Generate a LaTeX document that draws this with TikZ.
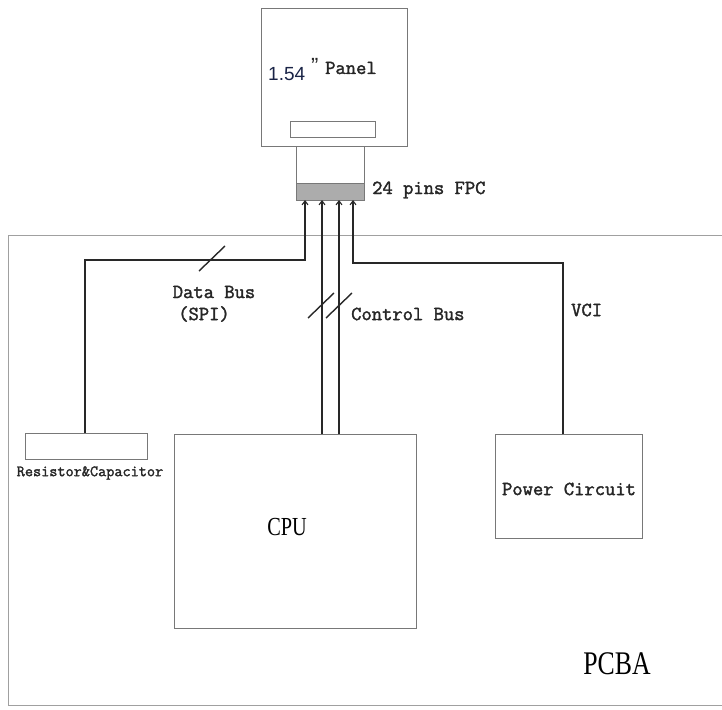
\documentclass[tikz,border=0pt]{standalone}
\usepackage{fontspec}
\usetikzlibrary{arrows.meta,calc}
\newfontfamily\monof[FakeBold=1.8]{Latin Modern Mono}
\newfontfamily\cserif[FakeStretch=0.78]{Liberation Serif}
\newfontfamily\sansf{Liberation Sans}
\definecolor{boxgray}{RGB}{120,120,120}
\definecolor{framegray}{RGB}{160,160,160}
\definecolor{wirec}{RGB}{40,40,40}
\tikzset{
  box/.style={draw=boxgray,line width=1.1pt,anchor=north west,inner sep=0pt},
  wire/.style={draw=wirec,line width=1.6pt},
  pin/.style={wire,-{Straight Barb[length=4pt,width=6pt,line width=1.1pt]}},
  slash/.style={draw=wirec,line width=1.4pt},
  lbl/.style={font=\monof\fontsize{20}{22}\selectfont,text=black!85,inner sep=0pt},
  slbl/.style={font=\monof\fontsize{15.8}{18}\selectfont,text=black!85,inner sep=0pt},
}
\begin{document}
\begin{tikzpicture}[x=1pt,y=-1pt]
\useasboundingbox (0,0) rectangle (722,709);
% PCBA frame
\draw[framegray,line width=1pt] (722,235) -- (8,235) -- (8,705) -- (722,705);
% panel
\node[box,minimum width=146pt,minimum height=138pt] (panel) at (261,8) {};
\node[box,minimum width=85pt,minimum height=16pt] (slot) at (290,121) {};
\node[box,minimum width=68pt,minimum height=54pt] (neck) at (296,146) {};
\node[box,fill=gray!65,minimum width=68pt,minimum height=17pt] (fpc) at (296,183) {};
\node[anchor=base west,inner sep=0pt,font=\sansf\fontsize{19}{20}\selectfont,text={rgb,255:red,25;green,35;blue,70}] (n154) at (268,80) {1.54};
\node[lbl,anchor=base west] (npanel) at (311,74) {{\sansf\fontsize{22}{22}\selectfont ”}\,\,Panel};
\node[lbl,anchor=west] (nfpc) at (372,190) {24 pins FPC};
% boxes
\node[box,minimum width=122pt,minimum height=26pt] (res) at (25,433) {};
\node[slbl] (nres) at (90,473) {Resistor\&Capacitor};
\node[box,minimum width=242pt,minimum height=194pt] (cpu) at (174,434) {};
\node[font=\cserif\fontsize{26}{28}\selectfont,inner sep=0pt] (ncpu) at (287,527) {CPU};
\node[box,minimum width=147pt,minimum height=104pt] (pwr) at (495,434) {};
\node[lbl] (npwr) at (569,489) {Power Circuit};
\node[font=\cserif\fontsize{33}{35}\selectfont,inner sep=0pt] (npcba) at (617,664) {PCBA};
% pins
\coordinate (p1) at (305,200);
\coordinate (p2) at (322,200);
\coordinate (p3) at (339,200);
\coordinate (p4) at (353,200);
\coordinate (d1) at (305,260);
\coordinate (v1) at (353,263);
\draw[pin] (res.north -| 85,0) |- (d1) -- (p1);
\draw[pin] (cpu.north -| p2) -- (p2);
\draw[pin] (cpu.north -| p3) -- (p3);
\draw[pin] (pwr.north -| 563,0) |- (v1) -- (p4);
% slashes
\coordinate (s1a) at (199,271); \coordinate (s1b) at (225,246);
\coordinate (s2a) at (308,318); \coordinate (s2b) at (334,293);
\coordinate (s3a) at (326,318); \coordinate (s3b) at (352,293);
\draw[slash] (s1a) -- (s1b);
\draw[slash] (s2a) -- (s2b);
\draw[slash] (s3a) -- (s3b);
% labels
\node[lbl] (ndb) at (214,292) {Data Bus};
\node[lbl] (nspi) at (204,314) {(SPI)};
\node[lbl,anchor=west] (ncb) at (351,314) {Control Bus};
\node[lbl,anchor=west] (nvci) at (571,310) {VCI};
\end{tikzpicture}
\end{document}
